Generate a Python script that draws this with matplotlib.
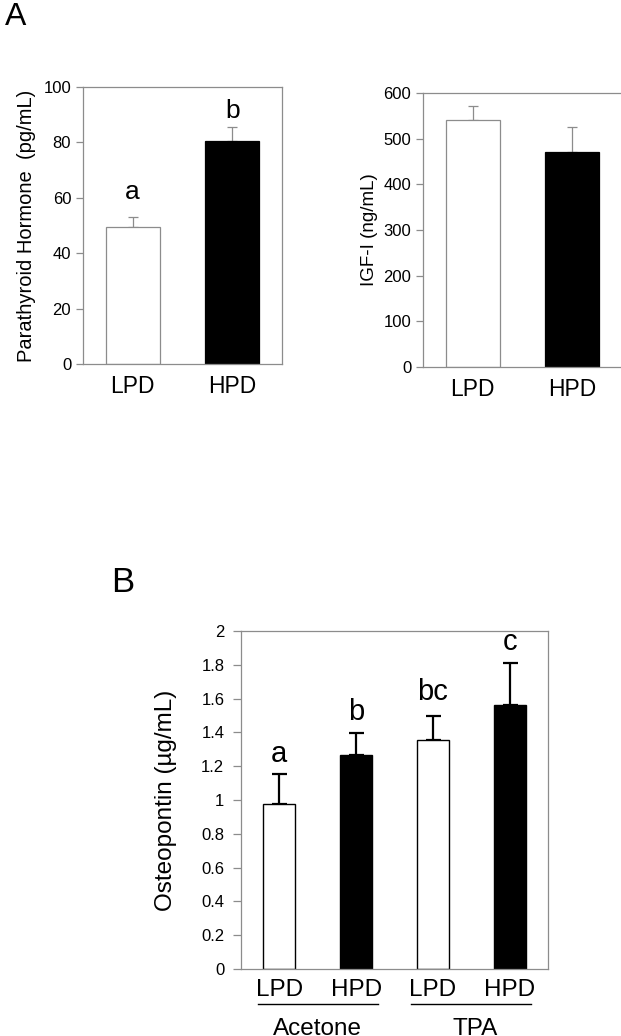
import matplotlib
matplotlib.use("Agg")
import matplotlib.pyplot as plt
import numpy as np

plt.rcParams['font.family'] = ['Liberation Sans', 'DejaVu Sans']

# Panel A data
diet_labels = ["LPD", "HPD"]
pth_values = [49.5, 80.5]
pth_err = [3.5, 5.0]
pth_letters = ["a", "b"]
pth_letter_y = [62, 91.5]
igf_values = [540, 471]
igf_err = [31, 54]

# Panel B data
opn_labels = ["LPD", "HPD", "LPD", "HPD"]
opn_values = [0.976, 1.266, 1.355, 1.562]
opn_err = [0.178, 0.130, 0.142, 0.248]
opn_letters = ["a", "b", "bc", "c"]
opn_letter_y = [1.27, 1.52, 1.64, 1.935]
group_labels = ["Acetone", "TPA"]

W, H = 621, 1036
fig = plt.figure(figsize=(W / 100, H / 100), dpi=100)

gray = "#8c8c8c"
bar_colors = ["white", "black"]


def style_axes(ax, spine_color, tick_size):
    for s in ax.spines.values():
        s.set_color(spine_color)
        s.set_linewidth(0.9)
    ax.tick_params(axis='y', direction='out', length=5, width=0.9, color=spine_color,
                   labelsize=tick_size, pad=3.5)


def px_axes(x0, y0, x1, y1):
    return fig.add_axes([x0 / W, 1 - y1 / H, (x1 - x0) / W, (y1 - y0) / H])


# ---- Panel A left: PTH ----
ax1 = px_axes(83, 87, 282, 364)
x = np.arange(len(diet_labels))
ax1.bar(x, pth_values, width=0.54, color=bar_colors, edgecolor=[gray, "black"], linewidth=0.9, zorder=2)
ax1.errorbar(x, pth_values, yerr=[np.zeros(2), pth_err], fmt='none', ecolor=gray,
             elinewidth=0.9, capsize=3.3, capthick=0.9, zorder=1)
for xi, ly, lt in zip(x, pth_letter_y, pth_letters):
    ax1.text(xi, ly, lt, ha='center', va='center', fontsize=19)
ax1.set_xlim(-0.5, 1.5)
ax1.set_ylim(0, 100)
ax1.set_yticks(np.arange(0, 101, 20))
ax1.set_xticks(x)
ax1.set_xticklabels(diet_labels, fontsize=16.5)
ax1.tick_params(axis='x', length=0, pad=8)
style_axes(ax1, gray, 12)
ax1.set_ylabel("Parathyroid Hormone  (pg/mL)", fontsize=14.5)
ax1.yaxis.set_label_coords(-0.236, 0.5)

# ---- Panel A right: IGF-I ----
ax2 = px_axes(423, 93, 622, 367)
ax2.bar(x, igf_values, width=0.54, color=bar_colors, edgecolor=[gray, "black"], linewidth=0.9, zorder=2)
ax2.errorbar(x, igf_values, yerr=[np.zeros(2), igf_err], fmt='none', ecolor=gray,
             elinewidth=0.9, capsize=3.3, capthick=0.9, zorder=1)
ax2.set_xlim(-0.5, 1.5)
ax2.set_ylim(0, 600)
ax2.set_yticks(np.arange(0, 601, 100))
ax2.set_xticks(x)
ax2.set_xticklabels(diet_labels, fontsize=16.5)
ax2.tick_params(axis='x', length=0, pad=8)
style_axes(ax2, gray, 12)
ax2.set_ylabel("IGF-I (ng/mL)", fontsize=13.5)
ax2.yaxis.set_label_coords(-0.226, 0.5)

# ---- Panel B: Osteopontin ----
ax3 = px_axes(241, 631, 548, 969)
xb = np.arange(len(opn_labels))
cols_b = [bar_colors[i % 2] for i in range(len(opn_labels))]
ax3.bar(xb, opn_values, width=0.42, color=cols_b, edgecolor="black", linewidth=1.0, zorder=2)
ax3.errorbar(xb, opn_values, yerr=[np.zeros(len(xb)), opn_err], fmt='none', ecolor="black",
             elinewidth=1.6, capsize=5.4, capthick=1.6, zorder=1)
for xi, ly, lt in zip(xb, opn_letter_y, opn_letters):
    ax3.text(xi, ly, lt, ha='center', va='center', fontsize=21)
ax3.set_xlim(-0.5, 3.5)
ax3.set_ylim(0, 2)
ax3.set_yticks(np.arange(0, 2.01, 0.2))
ax3.set_yticklabels(["0", "0.2", "0.4", "0.6", "0.8", "1", "1.2", "1.4", "1.6", "1.8", "2"])
ax3.set_xticks(xb)
ax3.set_xticklabels(opn_labels, fontsize=17.5)
ax3.tick_params(axis='x', length=0, pad=7)
style_axes(ax3, gray, 12)
ax3.tick_params(axis='y', length=6, pad=6)
ax3.set_ylabel("Osteopontin (µg/mL)", fontsize=17.5)
ax3.yaxis.set_label_coords(-0.208, 0.5)

trans = matplotlib.transforms.blended_transform_factory(ax3.transData, ax3.transAxes)
for g, name in enumerate(group_labels):
    c = 2 * g + 0.5
    ax3.plot([c - 0.78, c + 0.78], [-0.103, -0.103], color="black", lw=1.0,
             transform=trans, clip_on=False)
    ax3.text(c + 0.05 * g, -0.145, name, ha='center', va='top', fontsize=17.5, transform=trans)

fig.text(5 / W, 1 - 2 / H, "A", fontsize=23, ha='left', va='top')
fig.text(111 / W, 1 - 566 / H, "B", fontsize=25, ha='left', va='top')

fig.savefig("out.png", dpi=100)
